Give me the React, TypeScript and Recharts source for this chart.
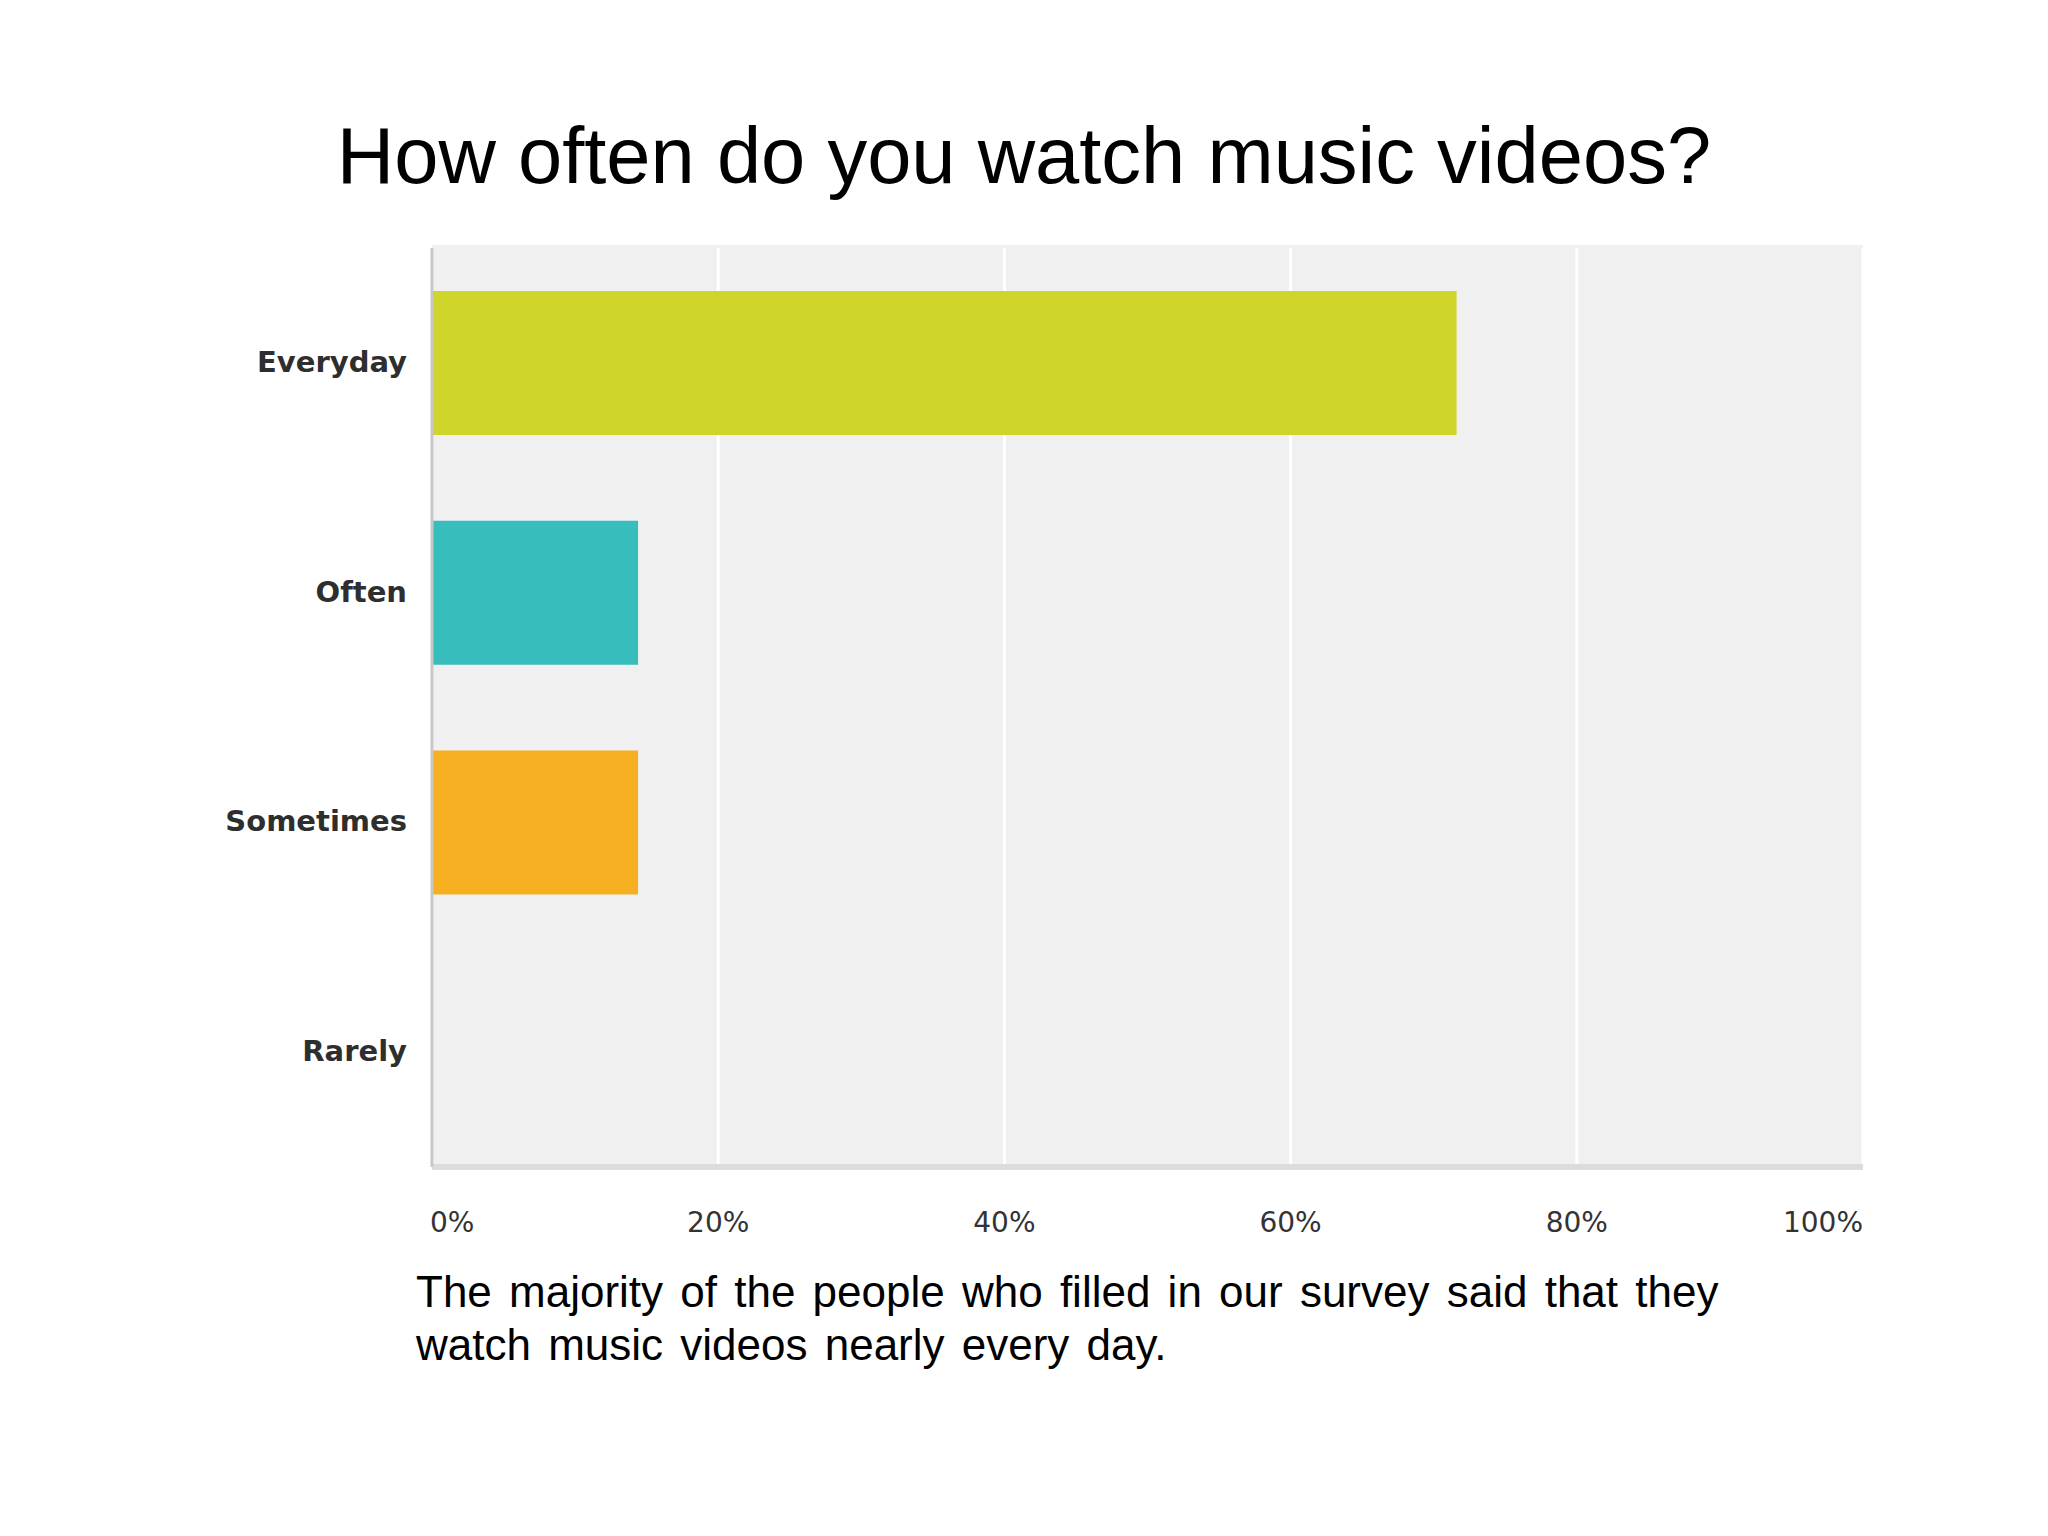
import { BarChart, Bar, XAxis, YAxis, CartesianGrid, Cell } from 'recharts';

const categories = ['Everyday', 'Often', 'Sometimes', 'Rarely'];
const shares = [71.6, 14.4, 14.4, 0];
const xTicks = [0, 20, 40, 60, 80, 100];

const barColors = ['#cfd52b', '#36bdbc', '#f5af20', '#9e9e9e'];

const data = categories.map((name, i) => ({ name, value: shares[i] }));

const XTick = (props: any) => {
  const { x, y, payload, index } = props;
  const anchor = index === 0 ? 'start' : index === xTicks.length - 1 ? 'end' : 'middle';
  return (
    <text
      x={index === 0 ? x - 2 : x}
      y={y + 65}
      textAnchor={anchor}
      fill="#333"
      fontSize={28}
      fontFamily="'DejaVu Sans', sans-serif"
    >
      {`${payload.value}%`}
    </text>
  );
};

const YTick = (props: any) => {
  const { x, y, payload } = props;
  return (
    <text
      x={x}
      y={y + 9}
      textAnchor="end"
      fill="#2e2e2e"
      fontSize={29}
      fontWeight="bold"
      fontFamily="'DejaVu Sans', sans-serif"
    >
      {payload.value}
    </text>
  );
};

export default function App() {
  return (
    <div style={{ position: 'absolute', left: 0, top: 0, width: 2048, height: 1536, background: '#fff' }}>
      <BarChart
        width={2048}
        height={1536}
        data={data}
        layout="vertical"
        margin={{ top: 248, right: 185, bottom: 289, left: 232 }}
      >
        <CartesianGrid horizontal={false} stroke="#ffffff" strokeWidth={3} fill="#f0f0f0" />
        <XAxis
          type="number"
          domain={[0, 100]}
          ticks={xTicks}
          height={80}
          axisLine={{ stroke: '#dcdcdc', strokeWidth: 6 }}
          tickLine={false}
          tickSize={0}
          tickMargin={0}
          tick={<XTick />}
        />
        <YAxis
          type="category"
          dataKey="name"
          width={200}
          axisLine={{ stroke: '#c8c8c8', strokeWidth: 3 }}
          tickLine={false}
          tickSize={0}
          tickMargin={25}
          tick={<YTick />}
        />
        <Bar dataKey="value" barSize={144} isAnimationActive={false}>
          {data.map((d, i) => (
            <Cell key={d.name} fill={barColors[i]} />
          ))}
        </Bar>
      </BarChart>
      <svg
        width={2048}
        height={1536}
        style={{ position: 'absolute', left: 0, top: 0, pointerEvents: 'none' }}
      >
        <rect x={432} y={245} width={1431} height={3} fill="#f0f0f0" />
        <text
          x={1024}
          y={183}
          textAnchor="middle"
          fontSize={79.5}
          fill="#000"
          fontFamily="'Liberation Sans', Arial, sans-serif"
        >
          How often do you watch music videos?
        </text>
        <text
          x={416}
          y={1307}
          fontSize={44}
          wordSpacing={5}
          fill="#000"
          fontFamily="'Liberation Sans', Arial, sans-serif"
        >
          The majority of the people who filled in our survey said that they
        </text>
        <text
          x={416}
          y={1360}
          fontSize={44}
          wordSpacing={5}
          fill="#000"
          fontFamily="'Liberation Sans', Arial, sans-serif"
        >
          watch music videos nearly every day.
        </text>
      </svg>
    </div>
  );
}
